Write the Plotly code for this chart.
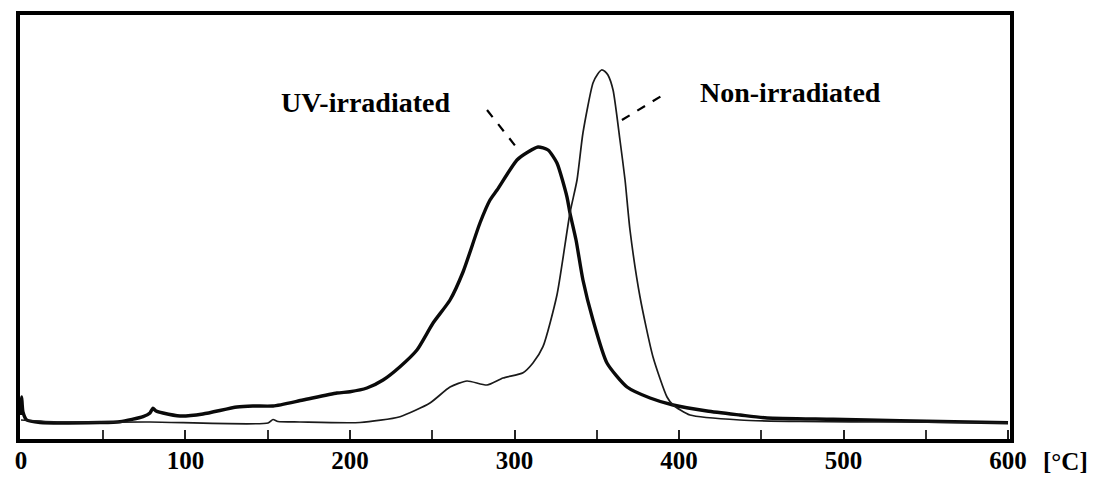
import plotly.graph_objects as go

# Temperature [°C] and signal (arbitrary units)
non_irr_temp = [0, 23.7, 78.4, 150.2, 153.2, 156.2, 169.6, 206.1, 230.4, 248.6, 260.8, 271.1,
                283.3, 293.0, 305.2, 311.2, 317.3, 325.8, 333.7, 338.0, 341.6, 347.7, 350.6,
                352.9, 355.0, 356.8, 359.9, 364.1, 367.2, 370.2, 376.3, 384.2, 392.7, 396.4,
                406.7, 437.1, 473.6, 534.3, 600]
non_irr_signal = [21, 19, 19, 18, 21.5, 19.5, 19, 18.5, 24.3, 38, 54, 60,
                  56, 63, 68.3, 78, 94.3, 146, 228, 261, 308, 358, 367,
                  371, 369.5, 366, 351, 301, 261, 211, 144, 84, 44, 36,
                  26, 21, 19.5, 19, 18]

uv_temp = [0, 0.4, 1.2, 3.5, 11.6, 48, 60.2, 74.2, 78.4, 80.2, 82.1, 86.3, 96.7, 110.6,
           131.3, 141, 153.2, 171.4, 192.1, 200, 210.3, 220.1, 230.4, 240.7, 250.5, 260.8,
           268.7, 279, 285.1, 289.4, 301.5, 308.2, 314.3, 320.4, 325.8, 331.9, 333.7,
           337.4, 341.6, 347.7, 356.2, 368.4, 382.4, 396.4, 417, 437.1, 453.5, 493.6,
           534.3, 600]
uv_signal = [26, 44, 29, 21, 18.5, 18.5, 19.3, 24.3, 28, 32.7, 30, 28, 25, 27,
             34, 35, 35, 41, 48, 49.3, 53, 61, 74.3, 91, 118, 141,
             169, 218, 241, 251, 281, 289, 294, 291, 278, 244, 228,
             201, 161, 121, 78, 54, 43, 36, 30, 26, 23, 21.7,
             20.3, 18.3]

tick_values = [0, 100, 200, 300, 400, 500, 600]
tick_labels = ["0", "100", "200", "300", "400", "500", "600"]

FONT = "Liberation Serif"

fig = go.Figure()
fig.add_trace(go.Scatter(x=uv_temp, y=uv_signal, mode="lines",
                         line=dict(color="#0a0a0a", width=3.4, shape="spline", smoothing=0.6),
                         name="UV-irradiated"))
fig.add_trace(go.Scatter(x=non_irr_temp, y=non_irr_signal, mode="lines",
                         line=dict(color="#1a1a1a", width=1.7, shape="spline", smoothing=0.6),
                         name="Non-irradiated"))

# dashed leader lines
fig.add_shape(type="line", x0=283.3, y0=331, x1=301.5, y1=293,
              line=dict(color="black", width=2.2, dash="dash"))
fig.add_shape(type="line", x0=365.3, y0=321, x1=390.3, y1=346,
              line=dict(color="black", width=2.2, dash="dash"))

fig.add_annotation(x=209.7, y=339, text="<b>UV-irradiated</b>", showarrow=False,
                   font=dict(family=FONT, size=28, color="black"))
fig.add_annotation(x=467.5, y=349, text="<b>Non-irradiated</b>", showarrow=False,
                   font=dict(family=FONT, size=28, color="black"))
fig.add_annotation(x=1.0, xref="paper", xanchor="left", xshift=31, y=-0.052, yref="paper",
                   yanchor="middle", text="<b>[°C]</b>", showarrow=False,
                   font=dict(family=FONT, size=25, color="black"))

fig.update_layout(
    width=1097, height=477,
    margin=dict(l=20, r=87, t=15, b=38, autoexpand=False),
    paper_bgcolor="white", plot_bgcolor="white",
    showlegend=False,
    font=dict(family=FONT, size=25, color="black"),
)
fig.update_xaxes(
    range=[-0.6, 601.2], tickvals=tick_values, ticktext=["<b>%s</b>" % t for t in tick_labels],
    ticks="inside", ticklen=9, tickwidth=2, tickcolor="#222",
    minor=dict(dtick=50, tick0=0, ticks="inside", ticklen=9, tickwidth=1.5, tickcolor="#333"),
    showline=True, linewidth=4, linecolor="black", mirror=True,
    showgrid=False, zeroline=False, automargin=False, ticklabelstandoff=-4,
    tickfont=dict(family=FONT, size=25, color="black"),
)
fig.update_yaxes(
    range=[2, 426], showticklabels=False, ticks="",
    showline=True, linewidth=4, linecolor="black", mirror=True,
    showgrid=False, zeroline=False, automargin=False,
)

fig.write_html("out.html")
